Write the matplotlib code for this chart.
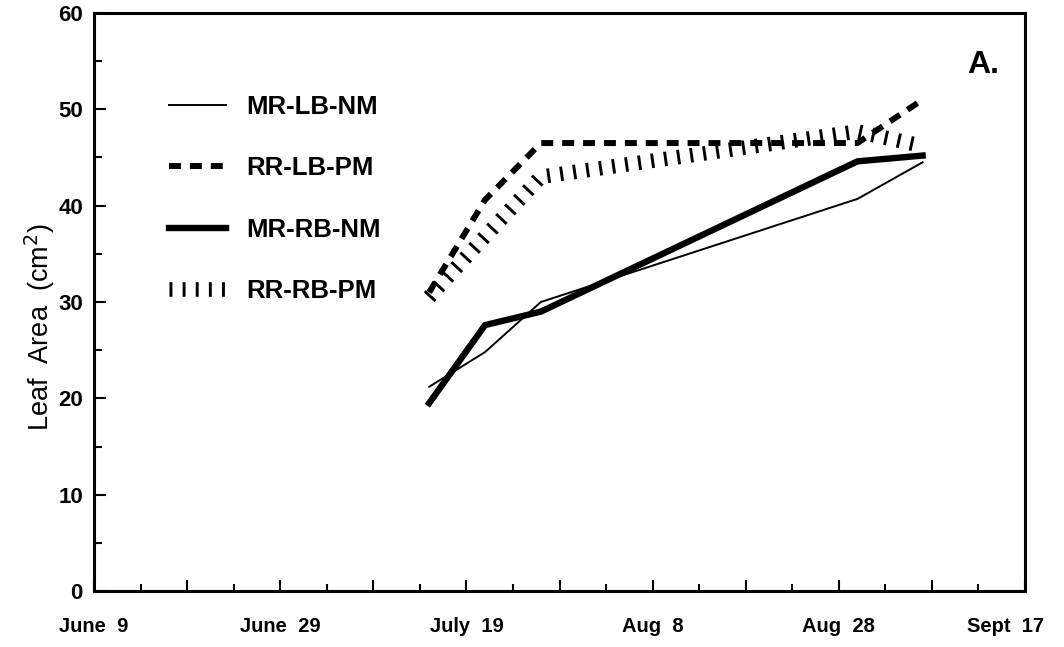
import numpy as np
import matplotlib
matplotlib.use("Agg")
import matplotlib.pyplot as plt
from matplotlib.transforms import ScaledTranslation

# sampling dates, counted in days from June 9
start = np.datetime64("1990-06-09")
dates = np.array(["1990-07-15", "1990-07-21", "1990-07-27", "1990-08-30", "1990-09-06"],
                 dtype="datetime64[D]")
days = (dates - start).astype(int)

# leaf area (cm2) per treatment
mr_lb_nm = [21.2, 24.8, 30.0, 40.7, 44.5]
rr_lb_pm = [31.0, 40.6, 46.5, 46.5, 51.0]
mr_rb_nm = [19.5, 27.6, 29.0, 44.6, 45.2]
rr_rb_pm = [30.5, 36.8, 43.0, 47.7, 46.2]

tick_days = [0, 20, 40, 60, 80, 100]
tick_names = ["June  9", "June  29", "July  19", "Aug  8", "Aug  28", "Sept  17"]

plt.rcParams["font.family"] = ["Liberation Sans", "DejaVu Sans"]

fig = plt.figure(figsize=(10.64, 6.47), dpi=100)
ax = fig.add_axes([94 / 1064, 56 / 647, 931 / 1064, 578 / 647])

ax.plot(days, mr_lb_nm, color="k", lw=1.4, label="MR-LB-NM")
ax.plot(days, rr_lb_pm, color="k", lw=4.3, linestyle=(0, (2.0, 1.5)),
        dash_capstyle="butt", label="RR-LB-PM")
ax.plot(days, mr_rb_nm, color="k", lw=4.6, label="MR-RB-NM")
# short cross ticks along the path
ax.plot(days, rr_rb_pm, color="k", lw=10.5, linestyle=(0, (0.2, 0.7)),
        dash_capstyle="butt", label="RR-RB-PM")

ax.set_xlim(0, 100)
ax.set_ylim(0, 60)
ax.set_xticks(tick_days)
ax.set_xticklabels(tick_names)
ax.set_xticks(np.arange(10, 100, 20), minor=True)
ax.set_yticks(np.arange(0, 61, 10))
ax.set_yticks(np.arange(5, 60, 10), minor=True)

ax.tick_params(axis="both", which="both", direction="in", top=False, right=False,
               width=1.5, color="k")
ax.tick_params(axis="x", which="major", length=8, pad=19, labelsize=14.5)
ax.tick_params(axis="x", which="minor", length=8)
ax.tick_params(axis="y", which="major", length=8.5, pad=8, labelsize=16)
ax.tick_params(axis="y", which="minor", length=6)
for lab in ax.get_yticklabels():
    lab.set_fontweight("bold")
for lab in ax.get_xticklabels():
    lab.set_fontweight("bold")
# keep the last date inside the figure
last = ax.get_xticklabels()[-1]
last.set_transform(last.get_transform() + ScaledTranslation(-19 / 100, 0, fig.dpi_scale_trans))

# 5-day ticks on x
sec = ax.secondary_xaxis("bottom")
sec.set_xticks(np.arange(5, 100, 10))
sec.tick_params(direction="in", length=5, width=1.5, labelbottom=False)
sec.spines["bottom"].set_visible(False)

for s in ax.spines.values():
    s.set_linewidth(2.2)

ax.set_ylabel("Leaf  Area  (cm$^{2}$)", fontsize=19.5, va="center")
ax.yaxis.set_label_coords(-0.058, 0.457)

ax.text(0.955, 0.91, "A.", transform=ax.transAxes, fontsize=23,
        fontweight="bold", ha="center", va="center")

ax.legend(loc="upper left", bbox_to_anchor=(0.081, 0.858), frameon=False,
          prop={"size": 18.5, "weight": "bold"}, handlelength=2.2,
          handletextpad=0.8, labelspacing=1.45, borderpad=0, borderaxespad=0)

fig.savefig("out.png", dpi=100)
